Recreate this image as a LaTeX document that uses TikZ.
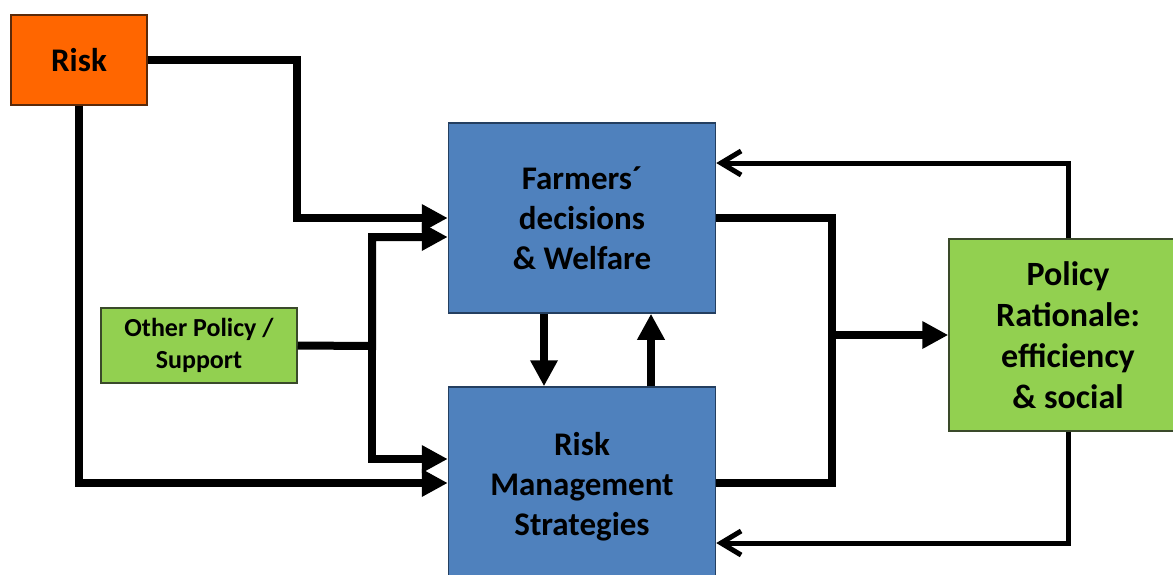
\documentclass[tikz,border=0pt]{standalone}
\usepackage{fontspec}
\setmainfont{Carlito}
\usetikzlibrary{arrows.meta}
\definecolor{riskor}{HTML}{FF6600}
\definecolor{riskbd}{HTML}{5A2A0A}
\definecolor{boxblue}{HTML}{4F81BD}
\definecolor{bluebd}{HTML}{243F60}
\definecolor{boxgreen}{HTML}{92D050}
\definecolor{greenbd}{HTML}{3A4A2A}
\tikzset{
  box/.style={rectangle, draw, line width=1.5pt, align=center, inner sep=0pt, font=\bfseries},
  thk/.style={line width=8pt, line join=miter},
  thkarr/.style={thk, -{Triangle[length=26pt,width=26pt]}},
  fb/.style={line width=5pt, line join=miter, -{Straight Barb[length=20pt,width=24pt]}},
}
\begin{document}
\begin{tikzpicture}[x=1pt,y=-1pt]
\useasboundingbox (0,0) rectangle (1173,574);
\node[box, fill=riskor, draw=riskbd, minimum width=136pt, minimum height=90pt, font=\bfseries\fontsize{33}{40}\selectfont] (risk) at (79,60) {Risk};
\node[box, fill=boxblue, draw=bluebd, minimum width=267pt, minimum height=190pt, font=\bfseries\fontsize{33}{40}\selectfont] (farm) at (582,218) {Farmers´\\decisions\\\& Welfare};
\node[box, fill=boxblue, draw=bluebd, minimum width=267pt, minimum height=200pt, font=\bfseries\fontsize{33}{40}\selectfont] (rm) at (582,487) {Risk\\Management\\Strategies};
\node[box, fill=boxgreen, draw=greenbd, minimum width=196pt, minimum height=75pt, font=\bfseries\fontsize{26}{32}\selectfont] (other) at (199,345.5) {Other Policy /\\Support};
\node[box, fill=boxgreen, draw=greenbd, minimum width=238pt, minimum height=192pt, font=\bfseries\fontsize{34}{41}\selectfont] (pol) at (1068,335) {Policy\\Rationale:\\efficiency\\\& social};
% left inputs
\draw[thkarr] (risk.east) -- (297,60) |- ([yshift=0pt]farm.west);
\draw[thkarr] (other.east) -- (372,346) |- ([yshift=-19pt]farm.west);
\draw[thkarr] (372,346) |- ([yshift=28pt]rm.west);
\draw[thkarr] (risk.south) |- ([yshift=4pt]rm.west);
% between blue boxes
\draw[thkarr] (farm.south -| 544,0) -- (rm.north -| 544,0);
\draw[thkarr] (rm.north -| 651,0) -- (farm.south -| 651,0);
% right outputs
\draw[thk] (farm.east) -| (832,483) -- ([yshift=4pt]rm.east);
\draw[thkarr] (832,335) -- (pol.west);
% feedback
\draw[fb] (pol.north) |- ([yshift=55pt]farm.east);
\draw[fb] (pol.south) |- ([yshift=-56pt]rm.east);
\end{tikzpicture}
\end{document}
